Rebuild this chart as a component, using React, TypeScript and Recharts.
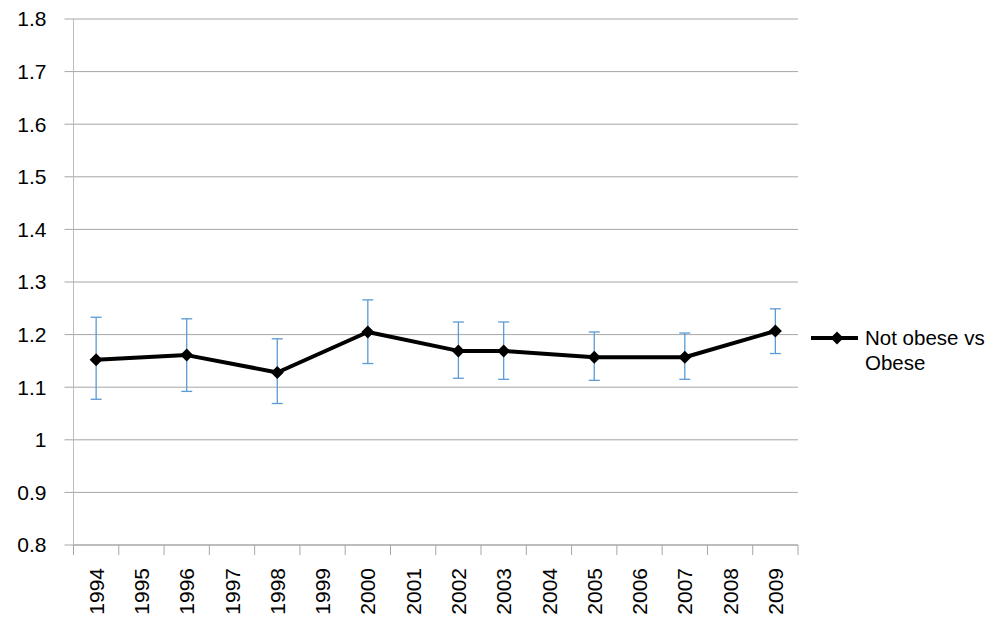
import { CartesianGrid, ErrorBar, Line, LineChart, XAxis, YAxis } from 'recharts';

const years = [
  '1994', '1995', '1996', '1997', '1998', '1999', '2000', '2001',
  '2002', '2003', '2004', '2005', '2006', '2007', '2008', '2009',
];
// odds ratio, not obese vs obese (null = no survey that year)
const ratio = [1.152, null, 1.161, null, 1.128, null, 1.205, null, 1.169, 1.169, null, 1.157, null, 1.157, null, 1.207];
const ciLow = [1.077, null, 1.092, null, 1.069, null, 1.145, null, 1.117, 1.115, null, 1.113, null, 1.115, null, 1.164];
const ciHigh = [1.233, null, 1.23, null, 1.192, null, 1.266, null, 1.224, 1.224, null, 1.205, null, 1.203, null, 1.249];
const yTicks = [0.8, 0.9, 1, 1.1, 1.2, 1.3, 1.4, 1.5, 1.6, 1.7, 1.8];

const legendLines = ['Not obese vs', 'Obese'];
const FONT = '"Liberation Sans", Arial, sans-serif';
const GRID = '#a6a6a6';

const W = 1000;
const H = 632;
const M = { top: 19, right: 202, left: 0, bottom: 0 };
const Y_W = 73.5;
// each year gets an equal slot, the point sits in its middle
const HALF = (W - M.right - M.left - Y_W) / years.length / 2;

const data = years.map((year, i) => {
  const v = ratio[i];
  const lo = ciLow[i];
  const hi = ciHigh[i];
  return {
    year,
    ratio: v,
    ci: v == null || lo == null || hi == null ? undefined : [v - lo, hi - v],
  };
});

function Diamond(props: any) {
  const { cx, cy, value, index } = props;
  if (value == null || cx == null || cy == null) return <g key={`d-${index}`} />;
  const r = 6.5;
  return (
    <polygon
      key={`d-${index}`}
      points={`${cx},${cy - r} ${cx + r},${cy} ${cx},${cy + r} ${cx - r},${cy}`}
      fill="#000"
    />
  );
}

function YearTick(props: any) {
  const { x, y, payload, index } = props;
  const axisY = y - 23;
  const last = index === years.length - 1;
  return (
    <g>
      <line x1={x - HALF} x2={x - HALF} y1={axisY} y2={axisY + 10} stroke={GRID} />
      {last && <line x1={x + HALF} x2={x + HALF} y1={axisY} y2={axisY + 10} stroke={GRID} />}
      <text
        x={x}
        y={y}
        dy="0.36em"
        transform={`rotate(-90, ${x}, ${y})`}
        textAnchor="end"
        fontSize={21}
        fill="#000"
        fontFamily={FONT}
      >
        {payload.value}
      </text>
    </g>
  );
}

function LegendBox() {
  return (
    <svg width={190} height={60} style={{ position: 'absolute', left: 808, top: 320 }}>
      <line x1={3} x2={50} y1={18} y2={18} stroke="#000" strokeWidth={4} />
      <polygon points="29,11.5 35.5,18 29,24.5 22.5,18" fill="#000" />
      {legendLines.map((t, i) => (
        <text key={t} x={57} y={18 + i * 25} dy="0.35em" fontSize={20.5} fontFamily={FONT} fill="#000">
          {t}
        </text>
      ))}
    </svg>
  );
}

export default function App() {
  return (
    <div style={{ position: 'absolute', left: 0, top: 0, width: W, height: H, fontFamily: FONT, background: '#fff' }}>
      <LineChart width={W} height={H} data={data} margin={M}>
        <CartesianGrid vertical={false} stroke={GRID} strokeWidth={1} />
        <XAxis
          dataKey="year"
          height={87}
          interval={0}
          padding={{ left: HALF, right: HALF }}
          tickSize={10}
          tickMargin={13}
          tickLine={false}
          axisLine={{ stroke: GRID }}
          tick={<YearTick />}
        />
        <YAxis
          width={Y_W}
          domain={[0.8, 1.8]}
          ticks={yTicks}
          interval={0}
          allowDataOverflow
          tickSize={9}
          tickMargin={18}
          tickLine={{ stroke: GRID }}
          axisLine={{ stroke: '#bdbdbd' }}
          tick={{ fontSize: 21, fill: '#000', fontFamily: FONT }}
        />
        <Line
          type="linear"
          dataKey="ratio"
          name={legendLines.join(' ')}
          stroke="#000"
          strokeWidth={4}
          strokeLinejoin="round"
          connectNulls
          dot={(p: any) => <Diamond key={`d-${p.index}`} {...p} />}
          activeDot={false}
          isAnimationActive={false}
        >
          <ErrorBar dataKey="ci" direction="y" width={5.5} stroke="#5b9bd5" strokeWidth={1.3} isAnimationActive={false} />
        </Line>
      </LineChart>
      <LegendBox />
    </div>
  );
}
